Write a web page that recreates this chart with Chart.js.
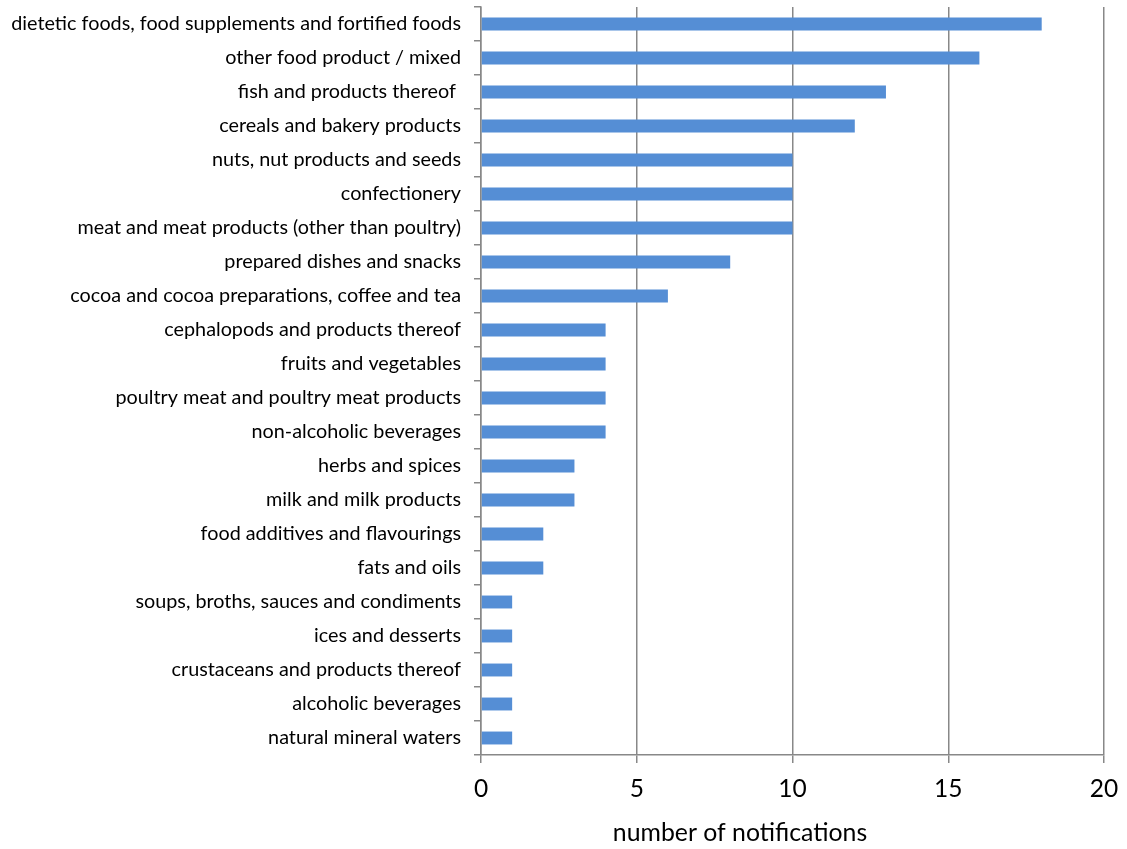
<!DOCTYPE html>
<html>
<head>
<meta charset="utf-8">
<script src="https://cdn.jsdelivr.net/npm/chart.js@4.4.1/dist/chart.umd.min.js"></script>
<style>
  html, body { margin: 0; padding: 0; background: #fff; }
  canvas { display: block; }
</style>
</head>
<body>
<canvas id="myChart" width="1127" height="849"></canvas>
<script>
// notifications per product category
var categories = [
  'dietetic foods, food supplements and fortified foods',
  'other food product / mixed',
  'fish and products thereof ',
  'cereals and bakery products',
  'nuts, nut products and seeds',
  'confectionery',
  'meat and meat products (other than poultry)',
  'prepared dishes and snacks',
  'cocoa and cocoa preparations, coffee and tea',
  'cephalopods and products thereof',
  'fruits and vegetables',
  'poultry meat and poultry meat products',
  'non-alcoholic beverages',
  'herbs and spices',
  'milk and milk products',
  'food additives and flavourings',
  'fats and oils',
  'soups, broths, sauces and condiments',
  'ices and desserts',
  'crustaceans and products thereof',
  'alcoholic beverages',
  'natural mineral waters'
]
var notifications = [18, 16, 13, 12, 10, 10, 10, 8, 6, 4, 4, 4, 4, 3, 3, 2, 2, 1, 1, 1, 1, 1]
var xTicks = [0, 5, 10, 15, 20]
var xTitle = 'number of notifications'

var fontFamily = "Lato, 'Open Sans', sans-serif"
var gridGray = '#888888'

// axis title sits a bit left of the plot centre, so draw it by hand
var axisTitle = {
  id: 'axisTitle',
  afterDraw: function(chart) {
    var c = chart.ctx
    c.save()
    c.font = '24.8px ' + fontFamily
    c.fillStyle = '#000'
    c.textAlign = 'center'
    c.textBaseline = 'middle'
    c.fillText(xTitle, 740, 833)
    c.restore()
  }
}

var ctx = document.getElementById('myChart').getContext('2d')
var myChart = new Chart(ctx, {
  type: 'bar',
  data: {
    labels: categories,
    datasets: [{
      data: notifications,
      backgroundColor: '#558ed5',
      borderWidth: 0,
      barPercentage: 0.38,
      categoryPercentage: 1
    }]
  },
  plugins: [axisTitle],
  options: {
    indexAxis: 'y',
    responsive: false,
    animation: false,
    layout: { padding: { top: 7, right: 23, left: 0, bottom: 0 } },
    plugins: { legend: { display: false }, tooltip: { enabled: false } },
    scales: {
      x: {
        min: 0,
        max: 20,
        afterBuildTicks: function(scale) {
          scale.ticks = xTicks.map(function(v) { return { value: v } })
        },
        afterFit: function(scale) {
          scale.height = 94
          scale.paddingLeft = 0
          scale.paddingRight = 0
        },
        grid: { color: gridGray, lineWidth: 1.5, tickLength: 8 },
        border: { color: gridGray, width: 1.5 },
        ticks: { color: '#000', padding: 11, font: { family: fontFamily, size: 24.5 } }
      },
      y: {
        afterFit: function(scale) {
          scale.width = 481
          scale.paddingTop = 0
          scale.paddingBottom = 0
        },
        grid: { drawOnChartArea: false, color: gridGray, lineWidth: 1.5, tickLength: 7, offset: true },
        border: { color: gridGray, width: 1.5 },
        ticks: { color: '#000', padding: 13, autoSkip: false, font: { family: fontFamily, size: 19.8 } }
      }
    }
  }
})
</script>
</body>
</html>
